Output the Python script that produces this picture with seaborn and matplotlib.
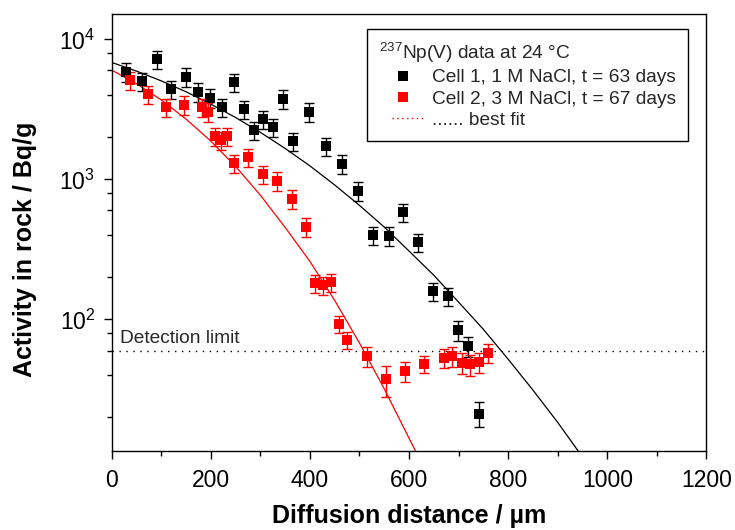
import numpy as np
import pandas as pd
import seaborn as sns
import matplotlib.pyplot as plt
from matplotlib.lines import Line2D
from matplotlib.legend_handler import HandlerLine2D
from matplotlib.ticker import LogLocator, NullFormatter, MultipleLocator

# Cell 1, 1 M NaCl, t = 63 days
cell1_x = [30, 61, 91, 120, 151, 174, 198, 222, 246, 267, 287, 306, 326, 346,
           365, 398, 432, 464, 497, 528, 559, 588, 619, 649, 678, 698, 719, 741]
cell1_y = [5870, 5040, 7240, 4420, 5400, 4220, 3830, 3280, 4930, 3160, 2240, 2680, 2350, 3760,
           1880, 3030, 1730, 1290, 830, 400, 396, 584, 355, 159, 147, 84, 64.5, 21.3]
cell1_err = [0.15, 0.15, 0.15, 0.15, 0.15, 0.15, 0.15, 0.15, 0.15, 0.15, 0.15, 0.15, 0.15, 0.15,
             0.15, 0.15, 0.15, 0.15, 0.15, 0.15, 0.15, 0.15, 0.15, 0.15, 0.15, 0.16, 0.16, 0.2]

# Cell 2, 3 M NaCl, t = 67 days
cell2_x = [37, 73, 110, 146, 182, 194, 209, 221, 233, 246, 276, 305, 334, 364, 393,
           410, 426, 442, 459, 475, 515, 553, 592, 631, 670, 687, 707, 723, 741, 759]
cell2_y = [5120, 4060, 3270, 3420, 3280, 3040, 2030, 1910, 2040, 1300, 1440, 1090, 976, 726, 460,
           181, 176, 184, 93, 71, 54.7, 37.5, 42.7, 47.9, 53.2, 54.7, 49, 47.9, 49.5, 57.7]
cell2_err = [0.15, 0.15, 0.15, 0.15, 0.15, 0.15, 0.15, 0.15, 0.15, 0.15, 0.15, 0.15, 0.15, 0.15, 0.15,
             0.15, 0.15, 0.15, 0.14, 0.14, 0.16, 0.25, 0.16, 0.14, 0.16, 0.16, 0.17, 0.17, 0.16, 0.15]

# best fit curves
fit1_x = [0, 50, 100, 150, 200, 250, 300, 350, 400, 450, 500, 550, 600, 650, 700, 750, 800, 850, 900, 950]
fit1_y = [6850, 5940, 5060, 4230, 3450, 2770, 2170, 1665, 1250, 913, 653, 457, 308, 207, 133, 85, 52, 31.3, 18.4, 10.4]
fit2_x = [0, 50, 100, 150, 200, 250, 300, 350, 400, 450, 500, 550, 600, 620]
fit2_y = [6040, 4830, 3700, 2700, 1880, 1240, 773, 455, 260, 137, 68, 32, 14.2, 10.3]

detection_limit = 60

df1 = pd.DataFrame({'x': cell1_x, 'y': cell1_y, 'err': np.array(cell1_err) * np.array(cell1_y)})
df2 = pd.DataFrame({'x': cell2_x, 'y': cell2_y, 'err': np.array(cell2_err) * np.array(cell2_y)})

sns.set_theme(style='ticks')
plt.rcParams['font.family'] = ['Liberation Sans', 'DejaVu Sans']
plt.rcParams['mathtext.fontset'] = 'custom'
plt.rcParams['mathtext.rm'] = 'Liberation Sans'
plt.rcParams['mathtext.it'] = 'Liberation Sans:italic'
plt.rcParams['mathtext.bf'] = 'Liberation Sans:bold'

fig, ax = plt.subplots(figsize=(7.35, 5.30), dpi=100)
fig.subplots_adjust(left=0.1518, right=0.9612, top=0.973, bottom=0.149)
ax.set_yscale('log')

# fit lines
sns.lineplot(x=fit1_x, y=fit1_y, ax=ax, color='black', lw=0.9, estimator=None, sort=False)
sns.lineplot(x=fit2_x, y=fit2_y, ax=ax, color='#ff0000', lw=0.9, estimator=None, sort=False)

# detection limit
ax.axhline(detection_limit, color='black', lw=1, ls=(0, (1, 4)))
ax.text(18, 68, 'Detection limit', fontsize=13.8, va='baseline', ha='left')

# data with error bars
for df, col in [(df1, 'black'), (df2, '#ff0000')]:
    ax.errorbar(df['x'], df['y'], yerr=df['err'], fmt='none', ecolor=col,
                elinewidth=1, capsize=3.4, capthick=1)
    sns.scatterplot(data=df, x='x', y='y', ax=ax, marker='s', s=54, color=col,
                    linewidth=0, zorder=3)

ax.set_xlim(0, 1200)
ax.set_ylim(11.5, 15100)
ax.xaxis.set_major_locator(MultipleLocator(200))
ax.xaxis.set_minor_locator(MultipleLocator(100))
ax.yaxis.set_major_locator(LogLocator(base=10))
ax.yaxis.set_minor_locator(LogLocator(base=10, subs=[2, 4, 6, 8]))
ax.yaxis.set_minor_formatter(NullFormatter())

for sp in ax.spines.values():
    sp.set_visible(True)
    sp.set_color('black')
    sp.set_linewidth(1.0)

ax.tick_params(axis='both', which='major', direction='out', length=5.8, width=1,
               labelsize=16.5, color='black', labelcolor='black')
ax.tick_params(axis='both', which='minor', direction='out', length=3.6, width=1, color='black')
ax.tick_params(axis='x', which='major', pad=7)
ax.tick_params(axis='y', which='major', pad=6)

ax.set_xlabel('Diffusion distance / µm', fontsize=18, fontweight='bold', color='black')
ax.set_ylabel('Activity in rock / Bq/g', fontsize=18, fontweight='bold', color='black')
ax.xaxis.labelpad = 9
ax.yaxis.set_label_coords(-0.125, 0.4626)

# legend
handles = [
    Line2D([], [], ls='none', marker='s', color='black', markersize=7.2, markeredgewidth=0),
    Line2D([], [], ls='none', marker='s', color='#ff0000', markersize=7.2, markeredgewidth=0),
    Line2D([], [], color='#ff0000', lw=1, ls=(0, (1, 2.5))),
]
labels = ['Cell 1, 1 M NaCl, t = 63 days', 'Cell 2, 3 M NaCl, t = 67 days', '...... best fit']
leg = ax.legend(handles, labels, title=r'$^{237}$Np(V) data at 24 °C', loc='upper right',
                bbox_to_anchor=(0.969, 0.9663), fontsize=13.8, title_fontsize=13.8,
                alignment='left', frameon=True, fancybox=False, framealpha=1,
                edgecolor='black', borderpad=0.62, handlelength=2.45, handletextpad=0.3,
                labelspacing=0.2, borderaxespad=0,
                handler_map={handles[2]: HandlerLine2D(xpad=0.64)})
leg.get_frame().set_linewidth(1.0)

fig.savefig('out.png', dpi=100)
